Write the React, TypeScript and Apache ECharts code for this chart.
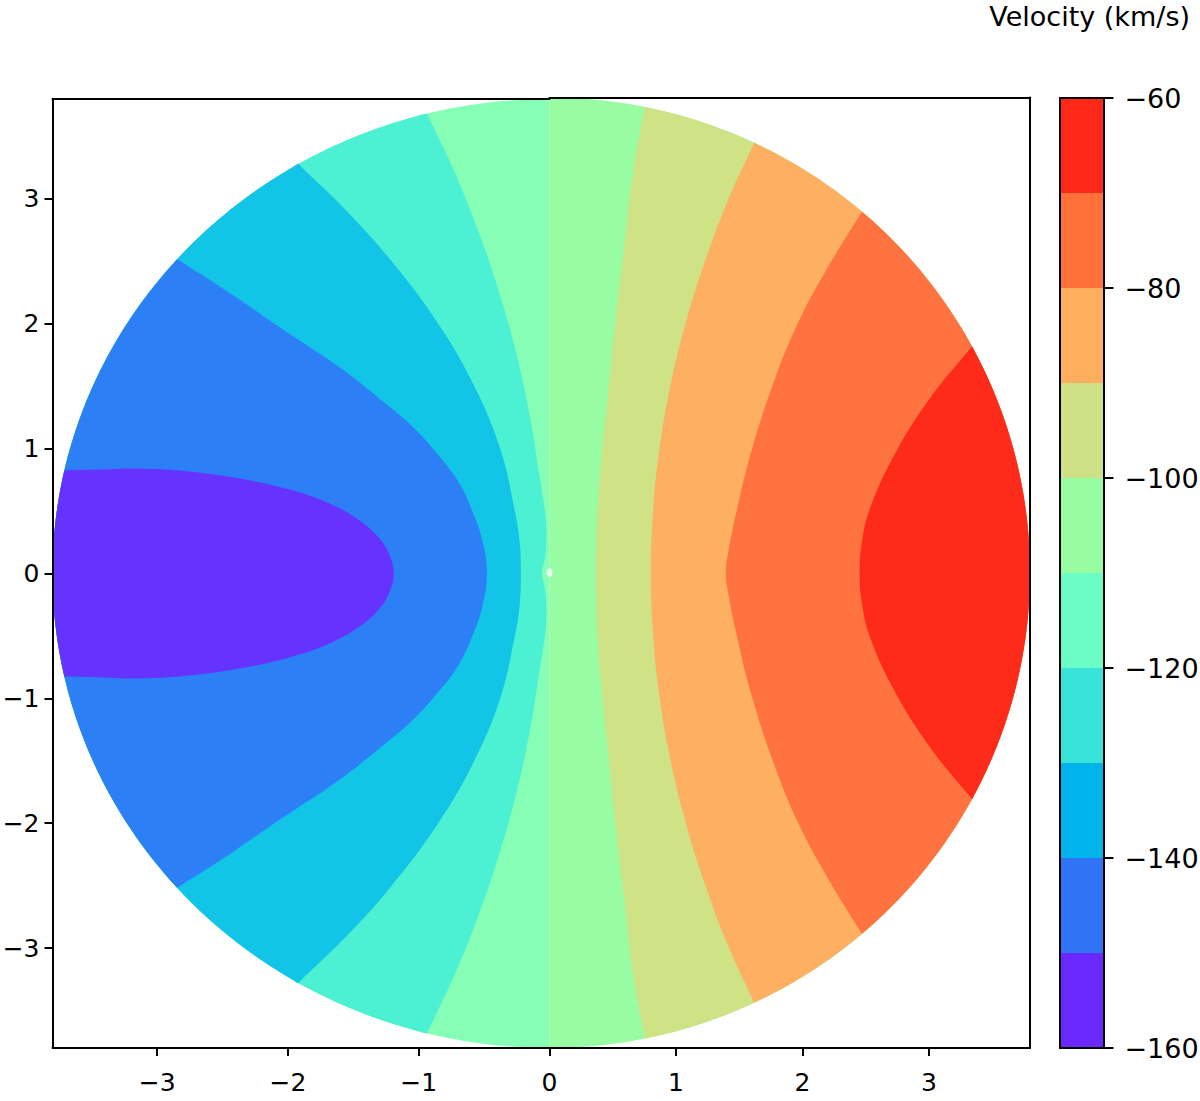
import React, { useEffect, useRef } from "react";
import * as echarts from "echarts";

type Pt = [number, number];

// ---------------- data ----------------
const DISK_RADIUS = 3.8;
const AXIS_LIMIT = 3.8;

const X_TICKS_LEFT = [-3, -2, -1, 0];
const X_TICKS_RIGHT = [1, 2, 3];
const Y_TICKS = [-3, -2, -1, 0, 1, 2, 3];

const COLORBAR_LEVELS = [-160, -150, -140, -130, -120, -110, -100, -90, -80, -70, -60];
const COLORBAR_COLORS = [
  "#6a28ff", "#3073f6", "#00b3ea", "#38e3da", "#6cfcc6",
  "#98fca0", "#cfe086", "#ffae5e", "#ff7138", "#ff2818",
];
const COLORBAR_TICKS = [-160, -140, -120, -100, -80, -60];

// filled-contour colours as rendered in the disk (left half: low → high, right half: low → high)
const LEFT_BAND_COLORS = ["#6633fe", "#2d7ff6", "#12c4e6", "#4cf0d2", "#86feb6"];
const RIGHT_BAND_COLORS = ["#98fca2", "#cfe286", "#feb062", "#fe7340", "#fe2a1a"];

// contour boundaries, upper half (disk edge → y = 0); the map is mirror-symmetric about y = 0
const CONTOUR_LEFT_1: Pt[] = [
  [-3.71, 0.825], [-3.442, 0.833], [-3.136, 0.841], [-2.753, 0.817], [-2.37, 0.761],
  [-1.988, 0.673], [-1.682, 0.561], [-1.452, 0.425], [-1.299, 0.28], [-1.222, 0.144], [-1.191, 0],
];
const CONTOUR_LEFT_2: Pt[] = [
  [-2.845, 2.516], [-2.45, 2.25], [-2.06, 1.97], [-1.605, 1.651], [-1.3, 1.4],
  [-1.05, 1.18], [-0.86, 0.96], [-0.7, 0.74], [-0.59, 0.5], [-0.51, 0.25], [-0.479, 0],
];
const CONTOUR_LEFT_3: Pt[] = [
  [-1.911, 3.269], [-1.548, 2.9], [-1.207, 2.5], [-0.851, 2.0], [-0.575, 1.5],
  [-0.377, 1.0], [-0.265, 0.5], [-0.228, 0.25], [-0.219, 0],
];
const CONTOUR_LEFT_4: Pt[] = [
  [-0.931, 3.67], [-0.72, 3.2], [-0.53, 2.7], [-0.37, 2.2], [-0.24, 1.7],
  [-0.14, 1.2], [-0.08, 0.8], [-0.03, 0.45], [-0.024, 0.25], [-0.035, 0.12], [-0.058, 0],
];
const CONTOUR_RIGHT_1: Pt[] = [
  [0.754, 3.726], [0.66, 3.2], [0.59, 2.6], [0.52, 2.0], [0.46, 1.4],
  [0.4, 0.8], [0.375, 0.4], [0.367, 0],
];
const CONTOUR_RIGHT_2: Pt[] = [
  [1.623, 3.446], [1.42, 3.0], [1.233, 2.5], [1.078, 2.0], [0.957, 1.5],
  [0.871, 1.0], [0.819, 0.5], [0.802, 0],
];
const CONTOUR_RIGHT_3: Pt[] = [
  [2.469, 2.885], [2.216, 2.468], [1.979, 2.027], [1.781, 1.546], [1.6, 0.986],
  [1.473, 0.465], [1.41, 0.144], [1.394, 0],
];
const CONTOUR_RIGHT_4: Pt[] = [
  [3.34, 1.81], [3.002, 1.386], [2.729, 0.946], [2.531, 0.505], [2.468, 0.224], [2.452, 0],
];

// ---------------- geometry helpers ----------------
function mirrored(upper: Pt[]): Pt[] {
  const lower = upper.slice(0, -1).reverse().map(([x, y]) => [x, -y] as Pt);
  return [...upper, ...lower];
}
function arc(a0: number, a1: number, steps = 120): Pt[] {
  const out: Pt[] = [];
  for (let i = 0; i <= steps; i++) {
    const a = a0 + ((a1 - a0) * i) / steps;
    out.push([DISK_RADIUS * Math.cos(a), DISK_RADIUS * Math.sin(a)]);
  }
  return out;
}
// part of the disk on the outer (left) side of a left-half contour
function leftRegion(c: Pt[]): Pt[] {
  const t = Math.atan2(c[0][1], c[0][0]);
  return [...mirrored(c), ...arc(2 * Math.PI - t, t)];
}
// part of the disk on the outer (right) side of a right-half contour
function rightRegion(c: Pt[]): Pt[] {
  const t = Math.atan2(c[0][1], c[0][0]);
  return [...mirrored(c), ...arc(-t, t)];
}

const SMOOTH = 0.4;
const leftRegions = [
  { color: LEFT_BAND_COLORS[4], pts: arc(Math.PI / 2, (3 * Math.PI) / 2, 200), smooth: 0 },
  { color: LEFT_BAND_COLORS[3], pts: leftRegion(CONTOUR_LEFT_4), smooth: SMOOTH },
  { color: LEFT_BAND_COLORS[2], pts: leftRegion(CONTOUR_LEFT_3), smooth: SMOOTH },
  { color: LEFT_BAND_COLORS[1], pts: leftRegion(CONTOUR_LEFT_2), smooth: SMOOTH },
  { color: LEFT_BAND_COLORS[0], pts: leftRegion(CONTOUR_LEFT_1), smooth: SMOOTH },
];
const rightRegions = [
  { color: RIGHT_BAND_COLORS[0], pts: arc(-Math.PI / 2, Math.PI / 2, 200), smooth: 0 },
  { color: RIGHT_BAND_COLORS[1], pts: rightRegion(CONTOUR_RIGHT_1), smooth: SMOOTH },
  { color: RIGHT_BAND_COLORS[2], pts: rightRegion(CONTOUR_RIGHT_2), smooth: SMOOTH },
  { color: RIGHT_BAND_COLORS[3], pts: rightRegion(CONTOUR_RIGHT_3), smooth: SMOOTH },
  { color: RIGHT_BAND_COLORS[4], pts: rightRegion(CONTOUR_RIGHT_4), smooth: SMOOTH },
];

const FONT = "DejaVu Sans";
const fmt = (v: number) => String(v).replace("-", "\u2212");
const line = { show: true, onZero: false, lineStyle: { color: "#000", width: 2 } };
const tickFont = { color: "#000", fontSize: 25, fontFamily: FONT };
const barFont = { color: "#000", fontSize: 27, fontFamily: FONT };
const tick = (length: number, customValues?: number[]) => ({
  show: true,
  length,
  ...(customValues ? { customValues } : {}),
  lineStyle: { color: "#000", width: 2 },
});
const hidden = { axisTick: { show: false }, axisLabel: { show: false }, splitLine: { show: false } };

function buildOption(): any {
  return {
    animation: false,
    backgroundColor: "#fff",
    title: {
      text: "Velocity (km/s)",
      right: 10,
      top: 3,
      padding: 0,
      textStyle: { color: "#000", fontSize: 27, fontWeight: "normal", fontFamily: FONT },
    },
    grid: [
      { left: 52.5, top: 99, width: 497, height: 949, containLabel: false, outerBoundsMode: "none" },
      { left: 549.5, top: 97.5, width: 480.5, height: 950.5, containLabel: false, outerBoundsMode: "none" },
      { left: 1060, top: 98, width: 43.5, height: 950, containLabel: false, outerBoundsMode: "none" },
    ],
    xAxis: [
      {
        gridIndex: 0, type: "value", min: -AXIS_LIMIT, max: 0, position: "bottom", z: 10,
        axisLine: line,
        axisTick: tick(8, X_TICKS_LEFT),
        axisLabel: { ...tickFont, customValues: X_TICKS_LEFT, formatter: fmt, margin: 22 },
        splitLine: { show: false },
      },
      { gridIndex: 0, type: "value", min: -AXIS_LIMIT, max: 0, position: "top", z: 10, axisLine: line, ...hidden },
      {
        gridIndex: 1, type: "value", min: 0, max: AXIS_LIMIT, position: "bottom", z: 10,
        axisLine: line,
        axisTick: tick(8, X_TICKS_RIGHT),
        axisLabel: { ...tickFont, customValues: X_TICKS_RIGHT, formatter: fmt, margin: 22 },
        splitLine: { show: false },
      },
      { gridIndex: 1, type: "value", min: 0, max: AXIS_LIMIT, position: "top", z: 10, axisLine: line, ...hidden },
      { gridIndex: 2, type: "value", min: 0, max: 1, position: "bottom", z: 10, axisLine: line, ...hidden },
      { gridIndex: 2, type: "value", min: 0, max: 1, position: "top", z: 10, axisLine: line, ...hidden },
    ],
    yAxis: [
      {
        gridIndex: 0, type: "value", min: -AXIS_LIMIT, max: AXIS_LIMIT, position: "left", z: 10,
        axisLine: line,
        axisTick: tick(8, Y_TICKS),
        axisLabel: { ...tickFont, customValues: Y_TICKS, formatter: fmt, margin: 13 },
        splitLine: { show: false },
      },
      { gridIndex: 1, type: "value", min: -AXIS_LIMIT, max: AXIS_LIMIT, position: "right", z: 10, axisLine: line, ...hidden },
      {
        gridIndex: 2, type: "value", min: -160, max: -60, interval: 20, position: "right", z: 10,
        axisLine: line,
        axisTick: tick(10, COLORBAR_TICKS),
        axisLabel: { ...barFont, customValues: COLORBAR_TICKS, formatter: fmt, margin: 21 },
        splitLine: { show: false },
      },
      { gridIndex: 2, type: "value", min: -160, max: -60, position: "left", z: 10, axisLine: line, ...hidden },
    ],
    series: [
      {
        type: "custom",
        xAxisIndex: 0,
        yAxisIndex: 0,
        silent: true,
        data: leftRegions.map((_, i) => [-1, 0, i]),
        renderItem: (params: any, api: any) => {
          const r = leftRegions[params.dataIndex];
          return {
            type: "polygon",
            shape: { points: r.pts.map((p) => api.coord(p)), smooth: r.smooth },
            style: { fill: r.color },
          };
        },
      },
      {
        type: "custom",
        xAxisIndex: 2,
        yAxisIndex: 1,
        silent: true,
        data: rightRegions.map((_, i) => [1, 0, i]),
        renderItem: (params: any, api: any) => {
          const r = rightRegions[params.dataIndex];
          return {
            type: "polygon",
            shape: { points: r.pts.map((p) => api.coord(p)), smooth: r.smooth },
            style: { fill: r.color },
          };
        },
      },
      {
        type: "scatter",
        xAxisIndex: 2,
        yAxisIndex: 1,
        silent: true,
        clip: false,
        symbol: "circle",
        symbolSize: [6, 9],
        itemStyle: { color: "#fff" },
        data: [[0, 0]],
        z: 5,
      },
      {
        type: "custom",
        xAxisIndex: 4,
        yAxisIndex: 2,
        silent: true,
        data: COLORBAR_COLORS.map((_, i) => [0.5, COLORBAR_LEVELS[i], i]),
        renderItem: (params: any, api: any) => {
          const i = params.dataIndex;
          const p0 = api.coord([0, COLORBAR_LEVELS[i + 1]]);
          const p1 = api.coord([1, COLORBAR_LEVELS[i]]);
          return {
            type: "rect",
            shape: { x: p0[0], y: p0[1], width: p1[0] - p0[0], height: p1[1] - p0[1] },
            style: { fill: COLORBAR_COLORS[i] },
          };
        },
      },
    ],
  };
}

export default function App() {
  const ref = useRef<HTMLDivElement>(null);
  useEffect(() => {
    if (!ref.current) return;
    const chart = echarts.init(ref.current, null, { renderer: "svg" });
    chart.setOption(buildOption());
    return () => chart.dispose();
  }, []);
  return (
    <div
      ref={ref}
      style={{ position: "fixed", left: 0, top: 0, width: 1200, height: 1101, background: "#fff" }}
    />
  );
}
